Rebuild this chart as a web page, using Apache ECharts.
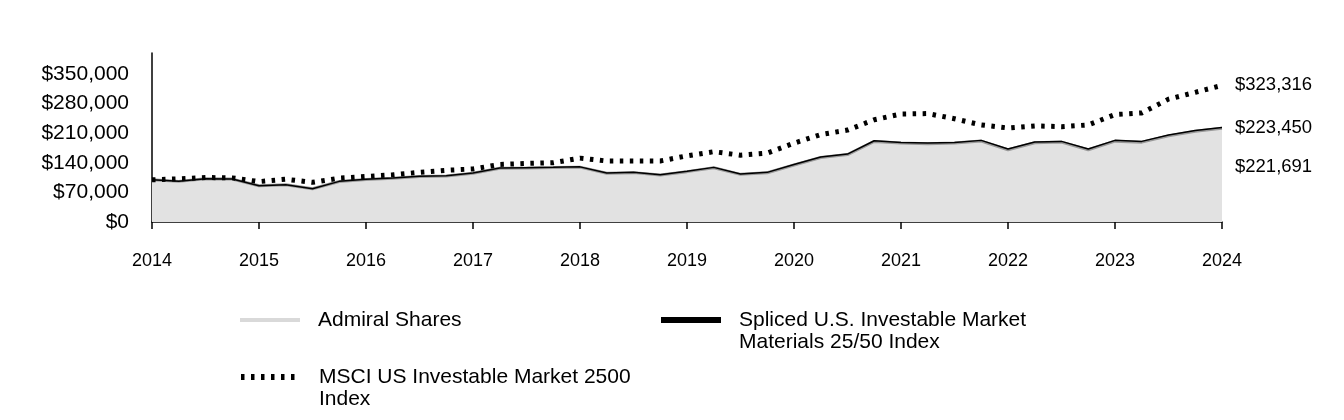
<!DOCTYPE html>
<html>
<head>
<meta charset="utf-8">
<script src="https://cdn.jsdelivr.net/npm/echarts@6/dist/echarts.min.js"></script>
<style>
html,body{margin:0;padding:0;background:#fff;}
#chart{width:1344px;height:420px;}
</style>
</head>
<body>
<div id="chart"></div>
<script>
const quarters = [
  '2014-Q1','2014-Q2','2014-Q3','2014-Q4',
  '2015-Q1','2015-Q2','2015-Q3','2015-Q4',
  '2016-Q1','2016-Q2','2016-Q3','2016-Q4',
  '2017-Q1','2017-Q2','2017-Q3','2017-Q4',
  '2018-Q1','2018-Q2','2018-Q3','2018-Q4',
  '2019-Q1','2019-Q2','2019-Q3','2019-Q4',
  '2020-Q1','2020-Q2','2020-Q3','2020-Q4',
  '2021-Q1','2021-Q2','2021-Q3','2021-Q4',
  '2022-Q1','2022-Q2','2022-Q3','2022-Q4',
  '2023-Q1','2023-Q2','2023-Q3','2023-Q4',
  '2024-Q1'
];
const yearLabels = ['2014','2015','2016','2017','2018','2019','2020','2021','2022','2023','2024'];

const admiralShares = [
  100000, 96150, 102300, 101550,
  85650, 88050, 78550, 96000,
  100750, 103700, 107650, 109150,
  115400, 127200, 127850, 128700,
  129850, 115200, 116850, 111150,
  119200, 128500, 112750, 116700,
  135050, 152600, 159600, 190750,
  186950, 185300, 186850, 191550,
  171100, 187550, 189100, 171000,
  191400, 189000, 203800, 214900,
  221691
];
const splicedIndex = [
  100000, 96200, 102400, 101700,
  85800, 88200, 78700, 96200,
  101000, 104000, 108000, 109500,
  115800, 127700, 128400, 129300,
  130500, 115800, 117500, 111800,
  119900, 129300, 113500, 117500,
  136000, 153700, 160800, 192200,
  188400, 186800, 188400, 193200,
  172600, 189200, 190800, 172600,
  193200, 190800, 205700, 216800,
  223450
];
const msciIndex = [
  100000, 102000, 105400, 104400,
  95600, 101200, 93900, 103700,
  107800, 111700, 117600, 122400,
  125600, 136100, 138600, 140300,
  151200, 144400, 144400, 144400,
  156600, 166400, 158100, 163000,
  186600, 206900, 217600, 242000,
  255700, 256600, 244400, 229800,
  222500, 227400, 225700, 229800,
  254200, 258100, 290800, 306900,
  323316
];
const yTicks = ['$0','$70,000','$140,000','$210,000','$280,000','$350,000'];

const nameA = 'Admiral Shares';
const nameS = 'Spliced U.S. Investable Market Materials 25/50 Index';
const nameM = 'MSCI US Investable Market 2500 Index';
const legendText = {};
legendText[nameA] = 'Admiral Shares';
legendText[nameS] = ' \nSpliced U.S. Investable Market\nMaterials 25/50 Index';
legendText[nameM] = ' \nMSCI US Investable Market 2500\nIndex';

const FONT = '"Liberation Sans", Arial, sans-serif';
const money = v => '$' + Math.round(v).toLocaleString('en-US');
const dotted = [3.5, 6.5];

const chart = echarts.init(document.getElementById('chart'), null, {renderer: 'canvas'});

const legendBase = {
  orient: 'vertical',
  padding: 0,
  itemWidth: 60,
  itemHeight: 14,
  selectedMode: false,
  formatter: n => legendText[n],
  textStyle: {fontFamily: FONT, fontSize: 21, color: '#000', lineHeight: 22, padding: [0, 0, 0, 13]}
};

chart.setOption({
  animation: false,
  backgroundColor: '#fff',
  grid: {left: 152, right: 122, top: 53, bottom: 198, containLabel: false, outerBoundsMode: 'none'},
  xAxis: {
    type: 'category',
    data: quarters,
    boundaryGap: false,
    axisLine: {show: true, lineStyle: {color: '#000', width: 1.5}},
    axisTick: {show: true, interval: 3, length: 7, lineStyle: {color: '#000', width: 1.5}},
    axisLabel: {
      interval: 3,
      margin: 30,
      fontFamily: FONT, fontSize: 18, color: '#000',
      formatter: (v, i) => yearLabels[i / 4]
    },
    splitLine: {show: false}
  },
  yAxis: {
    type: 'value',
    min: 0, max: 400000, interval: 70000,
    axisLine: {show: true, lineStyle: {color: '#000', width: 1.5}},
    axisTick: {show: false},
    splitLine: {show: false},
    axisLabel: {
      showMaxLabel: false,
      margin: 23,
      fontFamily: FONT, fontSize: 21, color: '#000',
      formatter: v => yTicks[Math.round(v / 70000)] || ''
    }
  },
  legend: [
    Object.assign({}, legendBase, {
      left: 238, top: 309,
      data: [{name: nameA, lineStyle: {color: '#d9d9d9', width: 4}, itemStyle: {opacity: 0}}]
    }),
    Object.assign({}, legendBase, {
      left: 658, top: 287,
      data: [{name: nameS, lineStyle: {color: '#000', width: 6}, itemStyle: {opacity: 0}}]
    }),
    Object.assign({}, legendBase, {
      left: 238, top: 344,
      data: [{name: nameM, lineStyle: {color: '#000', width: 6, type: dotted}, itemStyle: {opacity: 0}}]
    })
  ],
  series: [
    {
      name: nameA,
      type: 'line',
      data: admiralShares,
      symbol: 'none',
      lineStyle: {color: '#999999', width: 3},
      itemStyle: {color: '#999999'},
      areaStyle: {color: '#e2e2e2', opacity: 1},
      endLabel: {show: true, formatter: p => money(p.value), distance: 13, offset: [0, 39],
        fontFamily: FONT, fontSize: 18.5, color: '#000'},
      z: 1
    },
    {
      name: nameS,
      type: 'line',
      data: splicedIndex,
      symbol: 'none',
      lineStyle: {color: '#000', width: 1.5},
      itemStyle: {color: '#000'},
      endLabel: {show: true, formatter: p => money(p.value), distance: 13,
        fontFamily: FONT, fontSize: 18.5, color: '#000'},
      z: 2
    },
    {
      name: nameM,
      type: 'line',
      data: msciIndex,
      symbol: 'none',
      lineStyle: {color: '#000', width: 5, type: dotted, cap: 'butt'},
      itemStyle: {color: '#000'},
      endLabel: {show: true, formatter: p => money(p.value), distance: 13,
        fontFamily: FONT, fontSize: 18.5, color: '#000'},
      z: 3
    }
  ]
});
</script>
</body>
</html>
